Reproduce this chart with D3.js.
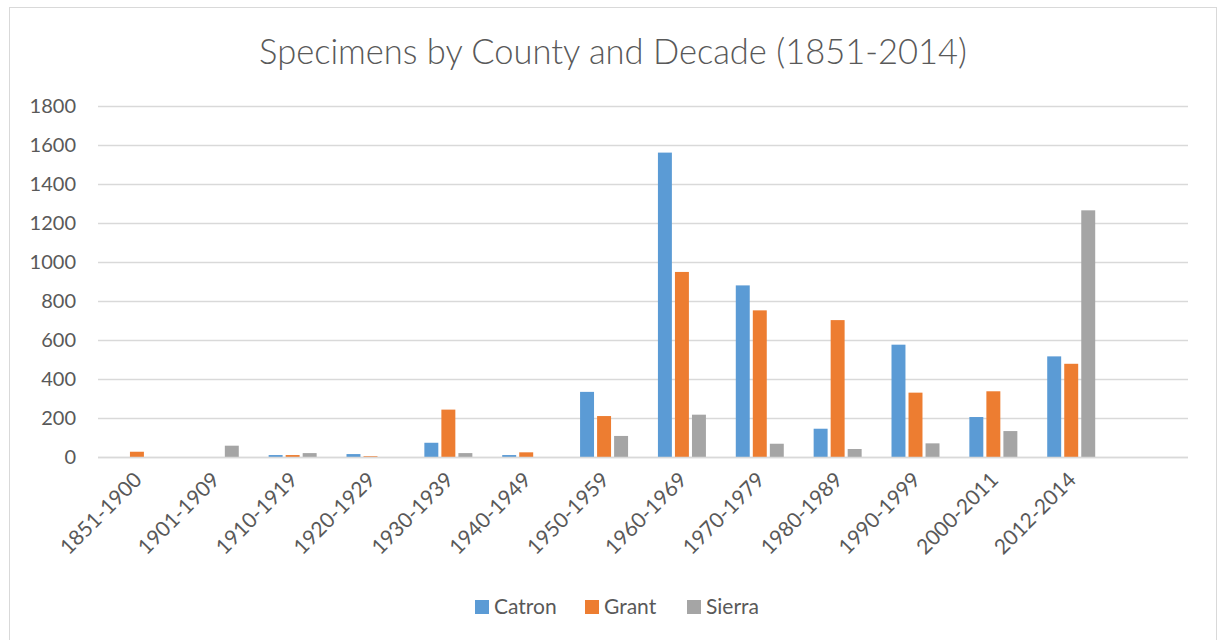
<!DOCTYPE html>
<html>
<head>
<meta charset="utf-8">
<script src="https://cdn.jsdelivr.net/npm/d3@7/dist/d3.min.js"></script>
<style>
  html, body { margin: 0; padding: 0; background: #fff; }
  svg { display: block; font-family: Lato, "Open Sans", sans-serif; }
</style>
</head>
<body>
<svg id="chart" width="1219" height="640"></svg>
<script>
// Decades (the Excel range carried one trailing empty row, kept as a blank slot)
const categories = ["1851-1900", "1901-1909", "1910-1919", "1920-1929", "1930-1939",
  "1940-1949", "1950-1959", "1960-1969", "1970-1979", "1980-1989",
  "1990-1999", "2000-2011", "2012-2014"];
const seriesNames = ["Catron", "Grant", "Sierra"];
const catron = [0, 0, 10, 15, 73, 10, 334, 1561, 880, 145, 576, 205, 516];
const grant  = [27, 0, 10, 4, 243, 24, 210, 949, 752, 702, 330, 337, 478];
const sierra = [0, 58, 20, 0, 20, 0, 108, 217, 68, 41, 70, 133, 1265];
const yTicks = [0, 200, 400, 600, 800, 1000, 1200, 1400, 1600, 1800];
const colors = ["#5B9BD5", "#ED7D31", "#A5A5A5"];

const values = [catron, grant, sierra];
const svg = d3.select("#chart");
const plot = { left: 98, right: 1188, top: 106, bottom: 457 };

// Chart frame
svg.append("rect")
  .attr("x", 9.5).attr("y", 7.5)
  .attr("width", 1207).attr("height", 640)
  .attr("fill", "#fff").attr("stroke", "#D9D9D9").attr("stroke-width", 1);

// Title
svg.append("text")
  .attr("x", 613).attr("y", 64)
  .attr("text-anchor", "middle")
  .attr("font-size", 34.5).attr("font-weight", 300)
  .attr("fill", "#595959")
  .text("Specimens by County and Decade (1851-2014)");

const x0 = d3.scaleBand()
  .domain([...categories, ""])
  .range([plot.left, plot.right])
  .paddingInner(0).paddingOuter(0);

const groupW = 48;
const x1 = d3.scaleBand()
  .domain(seriesNames)
  .range([0, groupW])
  .paddingInner(0.18);

const y = d3.scaleLinear()
  .domain([0, 1800])
  .range([plot.bottom, plot.top]);

// Gridlines and y tick labels
const yAxis = d3.axisLeft(y)
  .tickValues(yTicks)
  .tickSize(-(plot.right - plot.left))
  .tickPadding(22)
  .tickFormat(d3.format("d"));

const gy = svg.append("g")
  .attr("transform", `translate(${plot.left},0)`)
  .call(yAxis);
gy.select(".domain").remove();
gy.selectAll(".tick line").attr("stroke", "#D9D9D9").attr("stroke-width", 1.3);
gy.selectAll(".tick text")
  .attr("font-size", 20).attr("fill", "#595959")
  .attr("font-family", "Lato, 'Open Sans', sans-serif");

// Bars
const groups = svg.append("g").selectAll("g")
  .data(categories)
  .join("g")
  .attr("transform", d => `translate(${x0(d) + (x0.bandwidth() - groupW) / 2},0)`);

groups.selectAll("rect")
  .data((d, i) => seriesNames.map((s, j) => ({ s, j, v: values[j][i] })))
  .join("rect")
  .filter(d => d.v > 0)
  .attr("x", d => x1(d.s))
  .attr("width", x1.bandwidth())
  .attr("y", d => y(d.v))
  .attr("height", d => y(0) - y(d.v))
  .attr("fill", d => colors[d.j]);

// Baseline
svg.append("line")
  .attr("x1", plot.left).attr("x2", plot.right)
  .attr("y1", y(0) + 0.5).attr("y2", y(0) + 0.5)
  .attr("stroke", "#D9D9D9").attr("stroke-width", 1.5);

// X category labels, rotated 45 degrees
const xAxis = d3.axisBottom(x0).tickSize(0).tickPadding(0);
const gx = svg.append("g")
  .attr("transform", `translate(0,${plot.bottom})`)
  .call(xAxis);
gx.select(".domain").remove();
gx.selectAll(".tick text")
  .attr("font-size", 21).attr("fill", "#595959")
  .attr("font-family", "Lato, 'Open Sans', sans-serif")
  .attr("text-anchor", "end")
  .attr("transform", "translate(1,19) rotate(-45)")
  .attr("dy", "0.35em");

// Legend
const legendX = [475, 585, 687];
const legend = svg.append("g").selectAll("g")
  .data(seriesNames)
  .join("g")
  .attr("transform", (d, i) => `translate(${legendX[i]},600)`);
legend.append("rect")
  .attr("width", 14).attr("height", 14)
  .attr("fill", (d, i) => colors[i]);
legend.append("text")
  .attr("x", 19).attr("y", 7).attr("dy", "0.35em")
  .attr("font-size", 21).attr("fill", "#595959")
  .text(d => d);
</script>
</body>
</html>
